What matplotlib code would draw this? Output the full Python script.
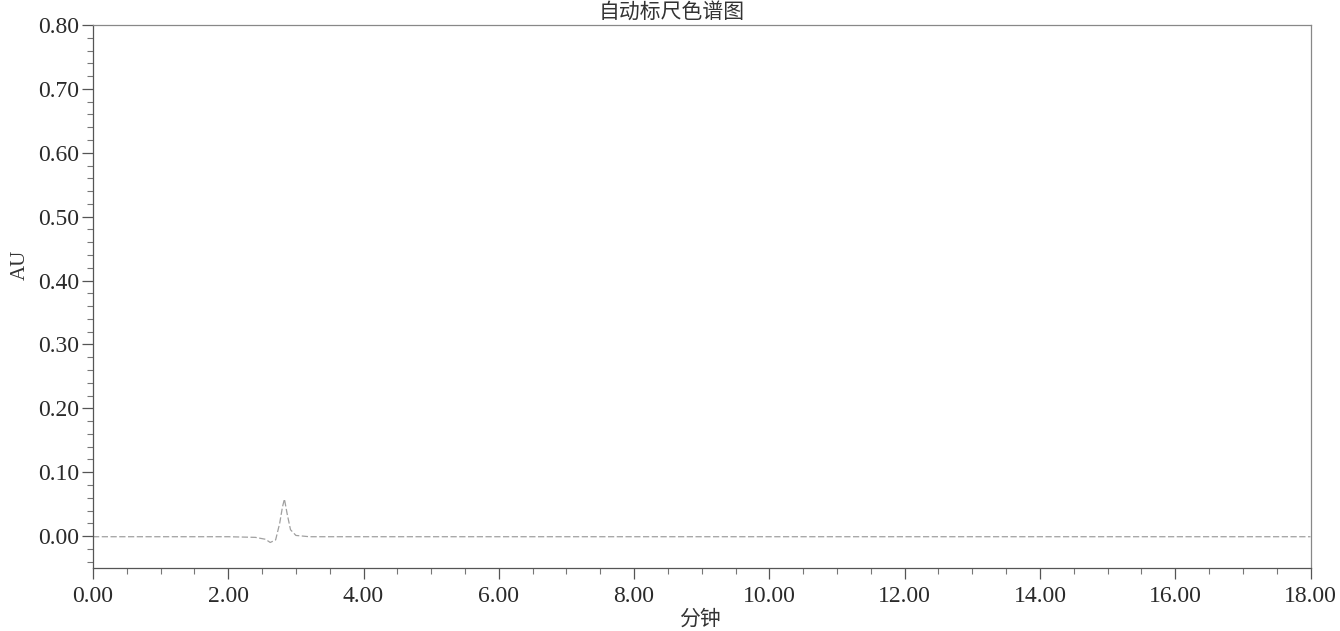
import matplotlib.pyplot as plt
from matplotlib.ticker import MultipleLocator, FormatStrFormatter

plt.rcParams['font.family'] = ['Liberation Serif', 'Noto Sans CJK SC', 'DejaVu Sans']

# chromatogram trace (minutes, AU)
minutes = [0.00, 1.00, 2.00, 2.40, 2.55, 2.62, 2.70, 2.76, 2.80, 2.83, 2.87, 2.92, 3.00, 3.20, 4.00, 8.00, 12.00, 18.00]
au = [-0.001, -0.001, -0.001, -0.002, -0.005, -0.010, -0.006, 0.020, 0.045, 0.058, 0.035, 0.010, 0.001, -0.001, -0.001, -0.001, -0.001, -0.001]

title = "自动标尺色谱图"
xlabel = "分钟"
ylabel = "AU"

fig = plt.figure(figsize=(13.4, 6.31), dpi=100)
ax = fig.add_axes([0.0694, 0.0998, 0.9086, 0.8606])

ax.plot(minutes, au, color='#a0a0a0', linewidth=0.9, linestyle=(0, (5, 2)))

ax.set_xlim(0, 18)
ax.set_ylim(-0.05, 0.80)
ax.xaxis.set_major_locator(MultipleLocator(2))
ax.xaxis.set_minor_locator(MultipleLocator(0.5))
ax.yaxis.set_major_locator(MultipleLocator(0.1))
ax.yaxis.set_minor_locator(MultipleLocator(0.02))
ax.xaxis.set_major_formatter(FormatStrFormatter('%.2f'))
ax.yaxis.set_major_formatter(FormatStrFormatter('%.2f'))

ax.tick_params(axis='both', which='major', direction='out', length=8, width=0.9,
               colors='#555555', labelcolor='#2a2a2a', labelsize=17)
ax.tick_params(axis='both', which='minor', direction='out', length=4, width=0.8, colors='#777777')
ax.tick_params(axis='x', which='major', pad=5)
ax.tick_params(axis='y', which='major', pad=2)

for name, sp in ax.spines.items():
    sp.set_color('#555555')
    sp.set_linewidth(0.9)
ax.spines['top'].set_color('#888888')
ax.spines['right'].set_color('#888888')

fig.text(0.5015, 0.999, title, ha='center', va='top', fontsize=15, color='#333333',
         family=['Noto Sans CJK SC', 'DejaVu Sans'])
fig.text(0.522, 0.002, xlabel, ha='center', va='bottom', fontsize=15, color='#333333',
         family=['Noto Sans CJK SC', 'DejaVu Sans'])
fig.text(0.015, 0.58, ylabel, ha='center', va='center', rotation=90, fontsize=15, color='#333333')

fig.savefig('out.png', dpi=100)
